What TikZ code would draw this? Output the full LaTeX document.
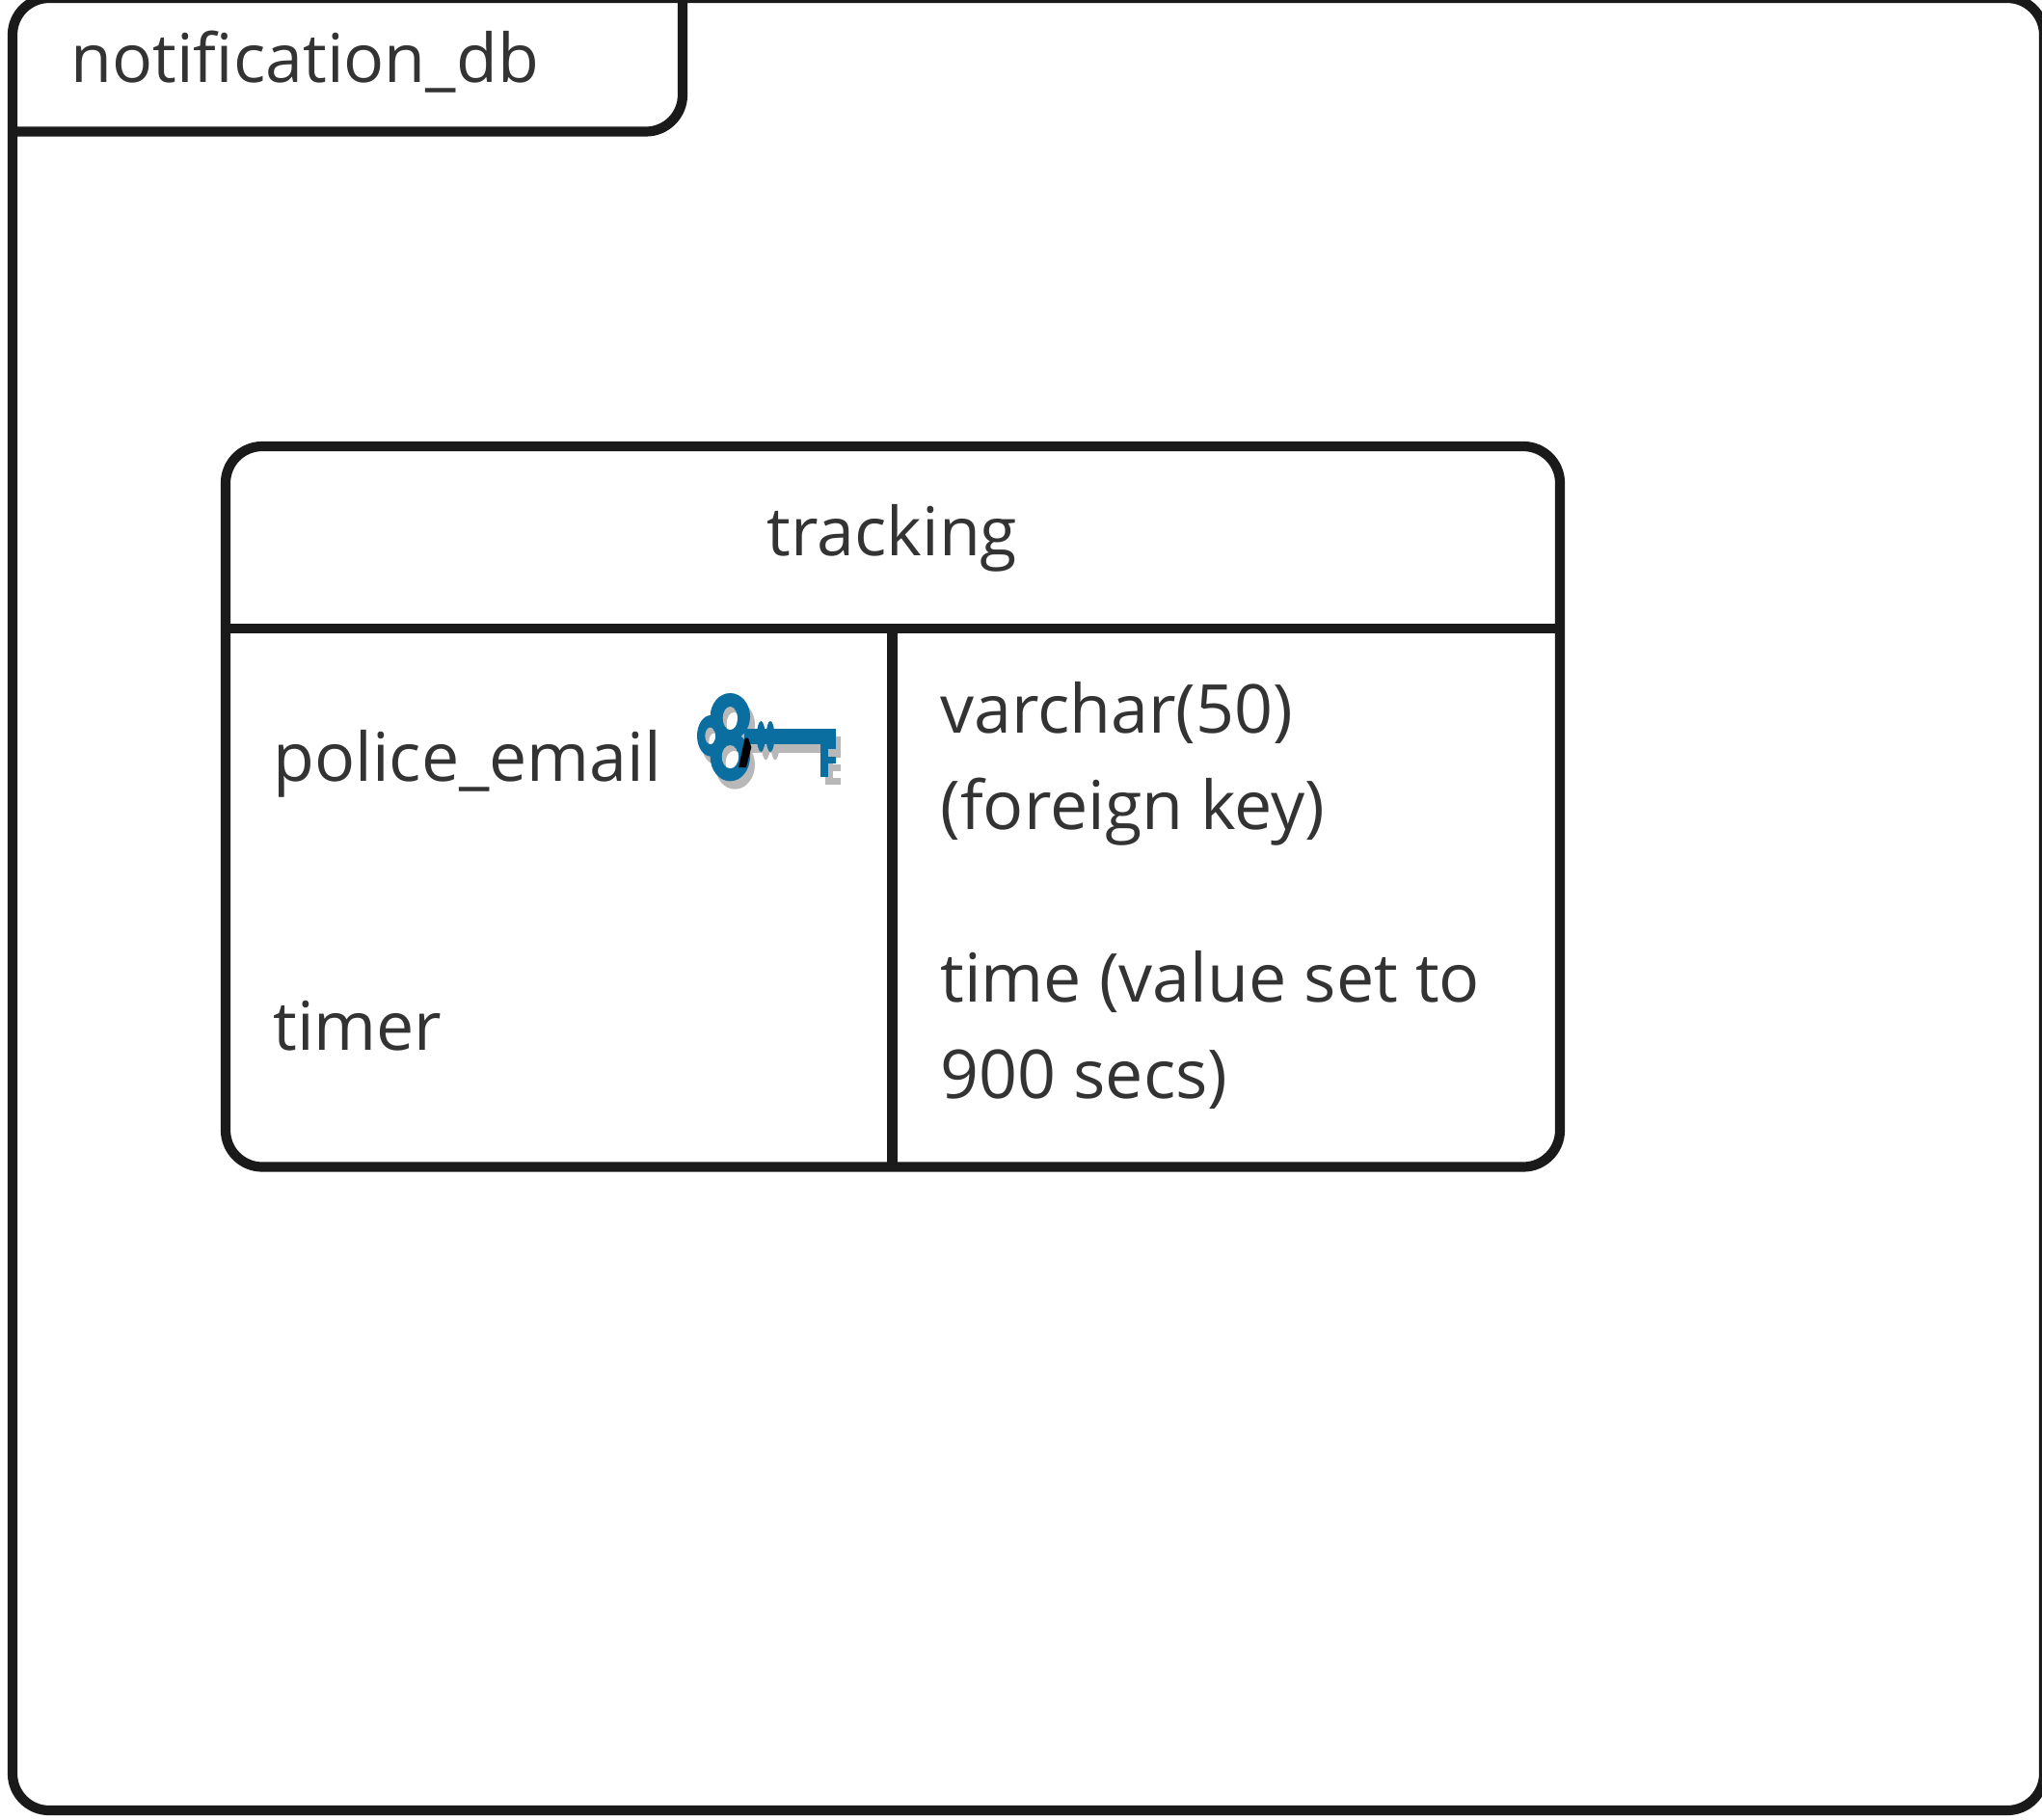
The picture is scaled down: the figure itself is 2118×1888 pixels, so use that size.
\documentclass[tikz,border=0pt]{standalone}
\usepackage{fontspec}
\setmainfont{Open Sans}
\definecolor{linec}{HTML}{1A1A1A}
\definecolor{textc}{HTML}{333333}
\definecolor{keyblue}{HTML}{0A6EA0}
\definecolor{keygrey}{HTML}{B8B8B8}
\tikzset{
  frameline/.style={draw=linec,line width=5.1pt,line join=round},
  label/.style={anchor=base west,inner sep=0pt,text=textc,font=\fontsize{34.95pt}{42pt}\selectfont},
  labelmid/.style={label,anchor=base},
}
\newcommand{\keybody}[1]{
  \fill[#1] (172,130) ellipse [x radius=62,y radius=73];
  \fill[#1] (112,190) ellipse [x radius=43,y radius=64];
  \fill[#1] (172,255) ellipse [x radius=62,y radius=76];
  \fill[#1] (268,192) ellipse [x radius=13,y radius=48];
  \fill[#1] (297,192) ellipse [x radius=13,y radius=48];
  \fill[#1] (215,168) rectangle (500,217);
  \fill[#1] (452,168) rectangle (500,232);
  \fill[#1] (452,232) rectangle (478,317);
  \fill[#1] (478,255) rectangle (500,275);
}
\newcommand{\keyhole}[4]{% cx cy rx ry
  \begin{scope}
    \clip (#1,#2) ellipse [x radius=#3,y radius=#4];
    \fill[keygrey] (#1,#2) ellipse [x radius=#3,y radius=#4];
    \fill[white] (#1+12,#2+18) ellipse [x radius=#3,y radius=#4];
  \end{scope}
}
\begin{document}
\begin{tikzpicture}[x=0.5pt,y=-0.5pt]
\useasboundingbox (0,0) rectangle (2118,1888);
\clip (0,0) rectangle (2118,1888);
\fill[white] (0,0) rectangle (2118,1888);
% package frame
\draw[frameline,rounded corners=19pt] (13,-2) rectangle (2120,1878);
% tab
\draw[frameline,rounded corners=19pt] (708,-10) -- (708,136.5) -- (11,136.5);
\node[label] (pkg) at (73,86) {notification\_db};
% table
\draw[frameline,rounded corners=19pt] (234,463) rectangle (1618,1210.5);
\coordinate (hl) at (234,652);
\coordinate (hr) at (1618,652);
\coordinate (dt) at (925.5,652);
\coordinate (db) at (925.5,1210.5);
\draw[frameline] (hl) -- (hr);
\draw[frameline] (dt) -- (db);
\node[labelmid] (tname) at (925.5,576.5) {tracking};
\node[label] (f1) at (283,810.5) {police\_email};
\node[label] (f2) at (283,1089.5) {timer};
\node[label] (t1a) at (975,760.5) {varchar(50)};
\node[label] (t1b) at (975,860.5) {(foreign key)};
\node[label] (t2a) at (975,1039.5) {time (value set to};
\node[label] (t2b) at (975,1139.5) {900 secs)};
% key icon
\begin{scope}[shift={(700,700)},x=0.16667pt,y=-0.16667pt]
  \begin{scope}[shift={(15,25)}]
    \keybody{keygrey}
    \fill[keygrey] (478,297) rectangle (500,317);
  \end{scope}
  \keybody{keyblue}
  \keyhole{172}{135}{23}{36}
  \keyhole{110}{190}{16}{26}
  \keyhole{172}{255}{26}{36}
  \fill[black] (218,197) -- (228,197) -- (238,225) -- (222,288) -- (198,288) -- cycle;
\end{scope}
\end{tikzpicture}
\end{document}
